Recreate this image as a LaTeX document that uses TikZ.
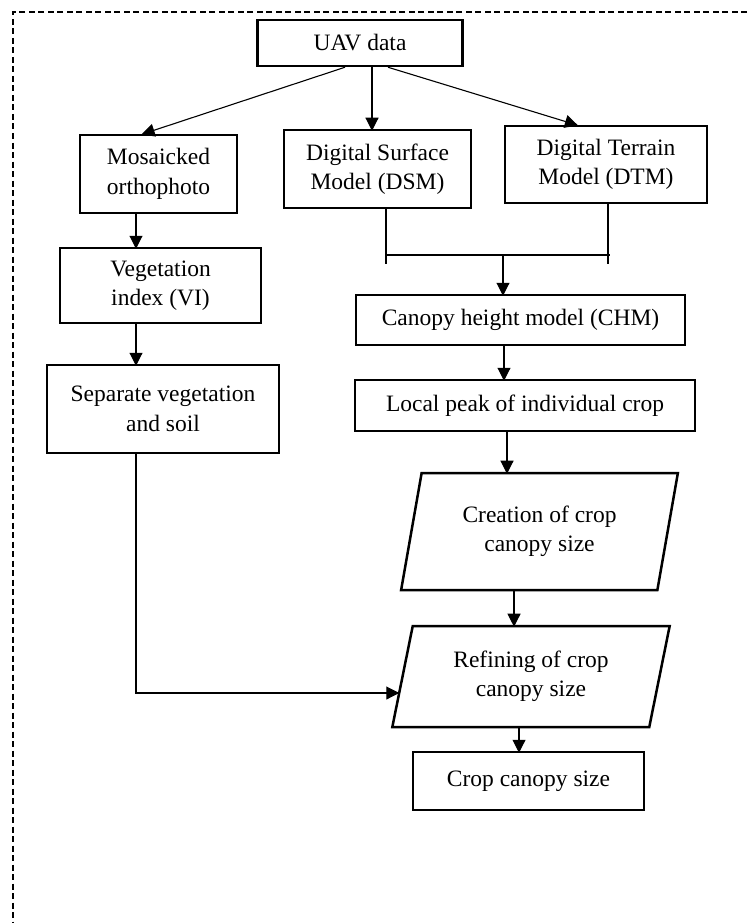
\documentclass[tikz,border=0pt]{standalone}
\usepackage{fontspec}
\setmainfont{Liberation Serif}
\usetikzlibrary{arrows.meta,positioning,shapes.geometric}

\begin{document}
\begin{tikzpicture}[
  x=1pt, y=-1pt,
  every node/.style={font=\fontsize{23.5}{29.5}\selectfont},
  box/.style={draw, line width=2.5pt, align=center, inner sep=2pt},
  slant/.style={draw, line width=2.5pt, align=center, trapezium, trapezium left angle=76, trapezium right angle=104, trapezium stretches=true, inner sep=2pt},
  link/.style={line width=1.1pt, shorten >=-2pt},
  frame/.style={line width=2.5pt, dash pattern=on 6pt off 3.5pt},
  >={Triangle[length=13pt,width=13pt]}
]
\useasboundingbox (0,0) rectangle (747,923);
\draw[frame] (747,12) -- (13,12) -- (13,923);

\node[box, minimum width=205pt, minimum height=46pt] (uav) at (360,43) {UAV data};
\node[box, minimum width=157pt, minimum height=78pt] (mosaic) at (158.5,174) {Mosaicked\\orthophoto};
\node[box, minimum width=187pt, minimum height=78pt] (dsm) at (377.5,169) {Digital Surface\\Model (DSM)};
\node[box, minimum width=202pt, minimum height=77pt] (dtm) at (606,164.5) {Digital Terrain\\Model (DTM)};
\node[box, minimum width=201pt, minimum height=75pt] (vi) at (160.5,285.5) {Vegetation\\index (VI)};
\node[box, minimum width=232pt, minimum height=88pt] (sep) at (163,409) {Separate vegetation\\and soil};
\node[box, minimum width=329pt, minimum height=50pt] (chm) at (520.5,320) {Canopy height model (CHM)};
\node[box, minimum width=340pt, minimum height=51pt] (peak) at (525,405.5) {Local peak of individual crop};
\node[slant, minimum width=277pt, minimum height=117pt] (create) at (539.5,531.5) {Creation of crop\\canopy size};
\node[slant, minimum width=278pt, minimum height=101pt] (refine) at (531,676.5) {Refining of crop\\canopy size};
\node[box, minimum width=231pt, minimum height=58pt] (crop) at (528.5,781) {Crop canopy size};

\coordinate (lcol) at (136,0);
\coordinate (jl) at (386,262);
\coordinate (jr) at (608,262);
\coordinate (jm) at (503,255);

% from the UAV data
\draw[link,->] ([xshift=-15pt]uav.south) -- ([xshift=-15pt]mosaic.north);
\draw[link,->] ([xshift=12pt]uav.south) -- ([xshift=12pt]uav.south |- dsm.north);
\draw[link,->] ([xshift=28pt]uav.south) -- ([xshift=-30pt]dtm.north);

% left column
\draw[link,->] (lcol |- mosaic.south) -- (lcol |- vi.north);
\draw[link,->] (lcol |- vi.south) -- (lcol |- sep.north);
\draw[link,->] (lcol |- sep.south) |- ([xshift=-4pt,yshift=-16.5pt]refine.west);

% DSM and DTM joined
\draw[link] (jl |- dsm.south) -- (jl);
\draw[link] (jr |- dtm.south) -- (jr);
\draw[link] (jl |- jm) -- (jr |- jm);
\draw[link,->] (jm) -- (jm |- chm.north);

% right column
\draw[link,->] ([xshift=-16.5pt]chm.south) -- ([xshift=-16.5pt]chm.south |- peak.north);
\draw[link,->] ([xshift=-18pt]peak.south) -- ([xshift=-18pt]peak.south |- create.north);
\draw[link,->] ([xshift=-25.5pt]create.south) -- ([xshift=-25.5pt]create.south |- refine.north);
\draw[link,->] ([xshift=-12pt]refine.south) -- ([xshift=-12pt]refine.south |- crop.north);
\end{tikzpicture}
\end{document}
